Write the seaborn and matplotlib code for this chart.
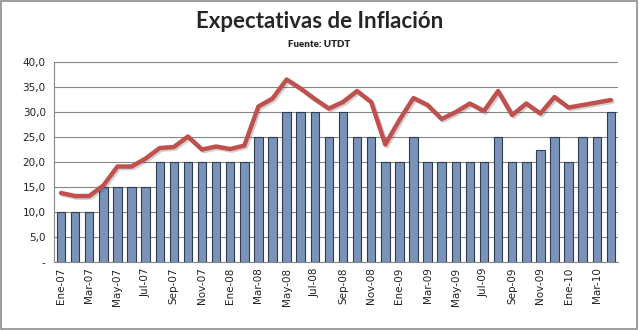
import numpy as np
import pandas as pd
import matplotlib
matplotlib.use("Agg")
import matplotlib.pyplot as plt
import matplotlib.patheffects as pe
import seaborn as sns

months = ["Ene", "Feb", "Mar", "Abr", "May", "Jun", "Jul", "Ago", "Sep", "Oct", "Nov", "Dic"]
labels = [f"{m}-{y:02d}" for y in (7, 8, 9, 10) for m in months][:40]

mediana = [10, 10, 10, 15, 15, 15, 15, 20, 20, 20, 20, 20, 20, 20,
           25, 25, 30, 30, 30, 25, 30, 25, 25, 20, 20, 25, 20, 20,
           20, 20, 20, 25, 20, 20, 22.5, 25, 20, 25, 25, 30]
promedio = [13.8, 13.2, 13.2, 15.3, 19.1, 19.1, 20.7, 22.8, 23.0, 25.1,
            22.5, 23.1, 22.6, 23.3, 31.1, 32.7, 36.5, 34.7, 32.6, 30.7,
            32.0, 34.2, 32.0, 23.5, 28.4, 32.8, 31.4, 28.6, 30.0, 31.7,
            30.2, 34.2, 29.4, 31.7, 29.7, 33.0, 30.9, 31.4, 31.9, 32.4]

df = pd.DataFrame({"mes": labels, "mediana": mediana, "promedio": promedio,
                   "pos": np.arange(len(labels))})

sns.set_theme(style="white")
plt.rcParams["font.family"] = ["DejaVu Sans"]

fig = plt.figure(figsize=(6.39, 3.30), dpi=100)
ax = fig.add_axes([0.0845, 0.206, 0.8825, 0.606])

sns.barplot(data=df, x="mes", y="mediana", ax=ax, color="#7b93b8",
            saturation=1, width=0.6, edgecolor="#2e3d52", linewidth=0.8, zorder=3)
sns.lineplot(data=df, x="pos", y="promedio", ax=ax, color="#c0504d", linewidth=3.2,
             zorder=4, sort=False,
             path_effects=[pe.SimpleLineShadow(offset=(1.2, -1.2), alpha=0.2),
                           pe.Normal()])

ax.set_xlim(-0.5, len(labels) - 0.5)
ax.set_ylim(0, 40)
ax.set_yticks(np.arange(0, 41, 5))
ax.set_yticklabels(["-"] + [f"{v:.1f}".replace(".", ",") for v in np.arange(5, 41, 5)],
                   fontsize=7.5, color="#222222")
ax.set_xticks(np.arange(0, len(labels), 2))
ax.set_xticklabels(labels[::2], rotation=90, fontsize=7.5, color="#222222")
ax.set_xticks(np.arange(-0.5, len(labels), 1), minor=True)
ax.tick_params(axis="x", which="major", length=0, pad=4)
ax.tick_params(axis="x", which="minor", length=4, color="#868686", width=0.8, direction="out")
ax.tick_params(axis="y", length=4, color="#868686", width=0.8, direction="out", pad=2)
ax.set_xlabel("")
ax.set_ylabel("")
ax.yaxis.grid(True, color="#868686", linewidth=0.8, zorder=0)
ax.set_axisbelow(True)
for s in ["top", "right"]:
    ax.spines[s].set_visible(False)
for s in ["left", "bottom"]:
    ax.spines[s].set_color("#868686")
    ax.spines[s].set_linewidth(0.8)

fig.text(0.5, 0.935, "Expectativas de Inflación", ha="center", va="center",
         fontsize=16, fontweight="bold", family=["Lato", "DejaVu Sans"])
fig.text(0.5, 0.865, "Fuente: UTDT", ha="center", va="center",
         fontsize=7, fontweight="heavy", family=["Lato", "DejaVu Sans"])

fig.patches.append(plt.Rectangle((0.002, 0.003), 0.995, 0.993, transform=fig.transFigure,
                                 fill=False, edgecolor="#8c8c8c", linewidth=1.2))

fig.savefig("out.png", dpi=100)
